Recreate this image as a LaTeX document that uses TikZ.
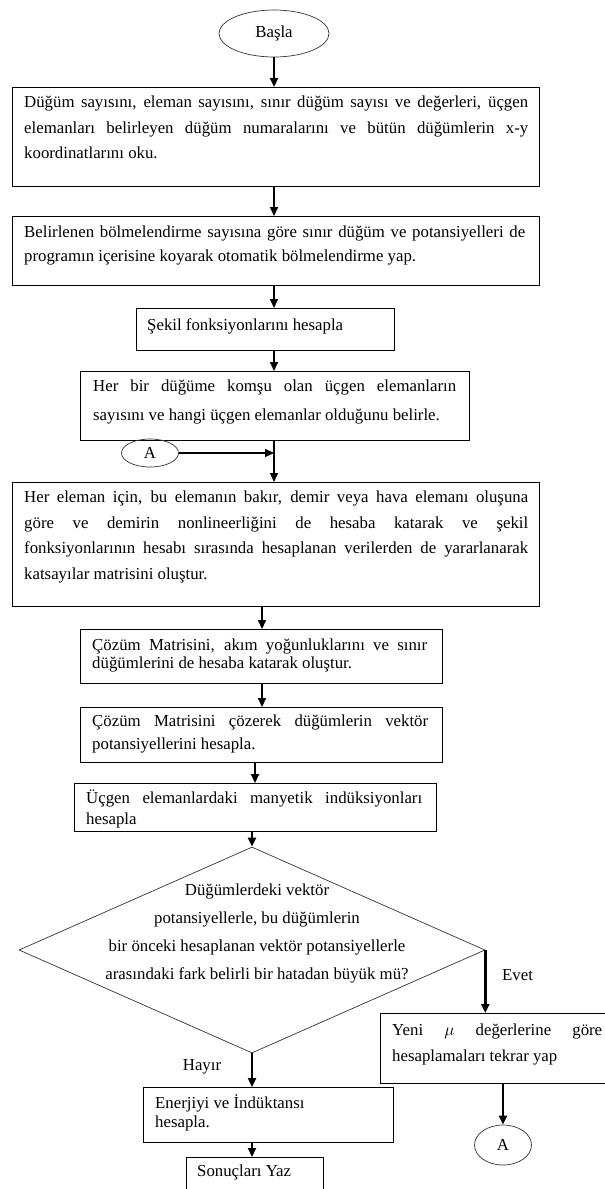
\documentclass[tikz,border=0pt]{standalone}
\usepackage{fontspec}
\setmainfont{Liberation Serif}
\usetikzlibrary{shapes.geometric,arrows.meta,calc}
\newcommand{\jline}[2]{\makebox[#1][s]{#2}}
\newcommand{\fs}{16.8}
\begin{document}
\begin{tikzpicture}[x=1pt,y=-1pt,
  boxnode/.style={draw=black, line width=0.9pt, rectangle, anchor=north west, inner sep=0pt},
  ovalnode/.style={draw=black!80, line width=0.7pt, ellipse, inner sep=0pt, font=\fontsize{\fs}{18}\selectfont},
  txt/.style={anchor=north west, inner sep=0pt, align=left, font=\fontsize{\fs}{#1}\selectfont},
  lbl/.style={inner sep=0pt, font=\fontsize{\fs}{18}\selectfont},
  arr/.style={line width=2pt, -{Triangle[length=9pt,width=8pt]}},
  thinarr/.style={line width=1.4pt, -{Triangle[length=9pt,width=8pt]}}
]
\useasboundingbox (0,0) rectangle (605,1189);
% column coordinates
\coordinate (c274) at (274,0);
\coordinate (c262) at (262,0);
\coordinate (c255) at (255,0);

\node[ovalnode, minimum width=110pt, minimum height=47pt] (start) at (274,33.5) {Başla};

\node[boxnode, minimum width=527pt, minimum height=99pt] (b1) at (12,87) {};
\node[txt=25.5] (t1) at (24,93) {\rule{0pt}{14.5pt}\jline{504pt}{Düğüm sayısını, eleman sayısını, sınır düğüm sayısı ve değerleri, üçgen}\\
\jline{504pt}{elemanları belirleyen düğüm numaralarını ve bütün düğümlerin x-y}\\
koordinatlarını oku.};

\node[boxnode, minimum width=527pt, minimum height=69pt] (b2) at (12,216) {};
\node[txt=24] (t2) at (24,223) {\rule{0pt}{14.5pt}\jline{501pt}{Belirlenen bölmelendirme sayısına göre sınır düğüm ve potansiyelleri de}\\
programın içerisine koyarak otomatik bölmelendirme yap.};

\node[boxnode, minimum width=258pt, minimum height=42pt] (b3) at (136,308) {};
\node[txt=18] (t3) at (147,316) {\rule{0pt}{14.5pt}Şekil fonksiyonlarını hesapla};

\node[boxnode, minimum width=389pt, minimum height=69pt] (b4) at (80,371) {};
\node[txt=28.5] (t4) at (93,377) {\rule{0pt}{14.5pt}\jline{363pt}{Her bir düğüme komşu olan üçgen elemanların}\\
sayısını ve hangi üçgen elemanlar olduğunu belirle.};

\node[ovalnode, minimum width=57pt, minimum height=28pt] (A1) at (150,453) {A};

\node[boxnode, minimum width=527pt, minimum height=124pt] (b5) at (12,482) {};
\node[txt=25.5] (t5) at (24,488) {\rule{0pt}{14.5pt}\jline{504pt}{Her eleman için, bu elemanın bakır, demir veya hava elemanı oluşuna}\\
\jline{504pt}{göre ve demirin nonlineerliğini de hesaba katarak ve şekil}\\
\jline{504pt}{fonksiyonlarının hesabı sırasında hesaplanan verilerden de yararlanarak}\\
katsayılar matrisini oluştur.};

\node[boxnode, minimum width=362pt, minimum height=54pt] (b6) at (80,629) {};
\node[txt=18.5] (t6) at (92,635.5) {\rule{0pt}{14.5pt}\jline{335pt}{Çözüm Matrisini, akım yoğunluklarını ve sınır}\\
düğümlerini de hesaba katarak oluştur.};

\node[boxnode, minimum width=362pt, minimum height=55pt] (b7) at (80,707) {};
\node[txt=23] (t7) at (92,712) {\rule{0pt}{14.5pt}\jline{336pt}{Çözüm Matrisini çözerek düğümlerin vektör}\\
potansiyellerini hesapla.};

\node[boxnode, minimum width=362pt, minimum height=48pt] (b8) at (74,783) {};
\node[txt=21] (t8) at (86,789) {\rule{0pt}{14.5pt}\jline{336pt}{Üçgen elemanlardaki manyetik indüksiyonları}\\
hesapla};

\node[draw=black!80, line width=0.7pt, diamond, minimum width=466pt, minimum height=206pt, inner sep=0pt] (dec) at (252,950) {};
\node[anchor=north, inner sep=0pt, align=center, font=\fontsize{\fs}{28}\selectfont] (tdec) at (257,881) {\rule{0pt}{14.5pt}Düğümlerdeki vektör\\
potansiyellerle, bu düğümlerin\\
bir önceki hesaplanan vektör potansiyellerle\\
arasındaki fark belirli bir hatadan büyük mü?};

\node[boxnode, minimum width=224.5pt, minimum height=70pt] (yeni) at (380,1013) {};
\node[txt=26] (tyeni) at (392,1021) {\rule{0pt}{14.5pt}\jline{210pt}{Yeni $\mu$ değerlerine göre}\\
hesaplamaları tekrar yap};

\node[boxnode, minimum width=250pt, minimum height=55pt] (ener) at (143,1087) {};
\node[txt=19] (tener) at (155,1094) {\rule{0pt}{14.5pt}Enerjiyi ve İndüktansı\\
hesapla.};

\node[boxnode, minimum width=137pt, minimum height=31.5pt] (son) at (186,1157) {};
\node[txt=18] (tson) at (197,1162) {\rule{0pt}{14.5pt}Sonuçları Yaz};

\node[ovalnode, minimum width=57pt, minimum height=40pt] (A2) at (503,1145) {A};

\node[lbl, anchor=west] (evet) at (502,975) {Evet};
\node[lbl] (hayir) at (202,1067) {Hayır};

% connectors
\draw[arr, line width=2.6pt] (start.south) -- (b1.north -| start.south);
\draw[arr] (b1.south -| c274) -- (b2.north -| c274);
\draw[arr] (b2.south -| c274) -- (b3.north -| c274);
\draw[arr] (b3.south -| c274) -- (b4.north -| c274);
\coordinate (j) at (A1.east -| c274);
\draw[thinarr] (b4.south -| c274) -- (b5.north -| c274);
\draw[thinarr] (A1.east) -- (j);
\draw[arr] (b5.south -| c262) -- (b6.north -| c262);
\draw[arr] (b6.south -| c262) -- (b7.north -| c262);
\draw[arr] (b7.south -| c255) -- (b8.north -| c255);
\draw[arr] (b8.south -| dec.north) -- (dec.north);
\draw[arr, line width=2.4pt] (dec.east) -- (yeni.north -| dec.east);
\draw[arr, line width=2.4pt] (dec.south) -- (ener.north -| dec.south);
\draw[arr] (ener.south -| dec.south) -- (son.north -| dec.south);
\draw[arr, line width=2.6pt] (yeni.south -| A2.north) -- (A2.north);
\end{tikzpicture}
\end{document}
